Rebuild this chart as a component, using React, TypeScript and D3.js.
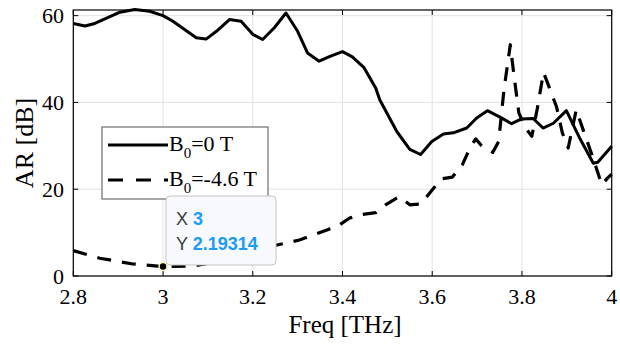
import * as d3 from 'd3'

// B0 = 0 T (solid)
const freqSolid = [
  2.8, 2.826, 2.848, 2.904, 2.937, 2.97, 3.0, 3.022, 3.074, 3.096, 3.119, 3.148, 3.174, 3.2, 3.222,
  3.248, 3.274, 3.3, 3.322, 3.348, 3.372, 3.4, 3.422, 3.448, 3.474, 3.483, 3.521, 3.55, 3.574, 3.599,
  3.625, 3.647, 3.677, 3.699, 3.723, 3.751, 3.777, 3.799, 3.825, 3.847, 3.87, 3.899, 3.93, 3.959,
  3.969, 4.0,
]
const arSolid = [
  58.2, 57.6, 58.2, 60.8, 61.4, 61.0, 60.0, 58.7, 54.9, 54.6, 56.4, 59.1, 58.7, 55.7, 54.5,
  57.2, 60.6, 56.4, 51.4, 49.5, 50.6, 51.7, 50.5, 48.0, 43.3, 40.6, 33.3, 29.2, 28.0, 31.0,
  32.7, 33.0, 34.1, 36.4, 38.1, 36.6, 35.1, 36.2, 36.3, 34.1, 35.2, 38.1, 31.5, 26.0,
  26.2, 29.9,
]

// B0 = -4.6 T (dashed)
const freqDashed = [
  2.8, 2.859, 2.933, 3.0, 3.067, 3.141, 3.244, 3.304, 3.37, 3.385, 3.415, 3.437, 3.474, 3.496, 3.526,
  3.55, 3.575, 3.598, 3.62, 3.645, 3.667, 3.684, 3.697, 3.71, 3.735, 3.748, 3.76, 3.774, 3.781,
  3.793, 3.808, 3.822, 3.834, 3.848, 3.857, 3.877, 3.89, 3.903, 3.921, 3.937, 3.959, 3.978, 3.99, 4.0,
]
const arDashed = [
  5.85, 4.1, 2.77, 2.19314, 2.3, 3.7, 6.9, 8.3, 10.8, 11.2, 13.3, 14.1, 14.6, 16.4, 18.3,
  16.4, 16.6, 19.6, 22.4, 22.8, 25.6, 29.5, 31.6, 30.0, 28.5, 31.0, 43.0, 53.3, 47.2,
  37.6, 34.1, 32.2, 38.5, 46.9, 44.5, 39.0, 33.0, 29.5, 38.3, 33.5, 27.0, 21.0, 22.5, 23.5,
]

const xTicks = [2.8, 3, 3.2, 3.4, 3.6, 3.8, 4]
const yTicks = [0, 20, 40, 60]
const legendLabels = ['0 T', '-4.6 T']
const tipX = 3
const tipY = 2.19314

const W = 620
const H = 345
const serif = '"Liberation Serif", "Times New Roman", serif'
const sans = '"Liberation Sans", Arial, sans-serif'

export default function App() {
  const x = d3.scaleLinear().domain([2.8, 4]).range([73.3, 611.7])
  const y = d3.scaleLinear().domain([0, 61.3]).range([276, 10])
  const [x0, x1] = x.range()
  const [y0, y1] = y.range()

  const line = d3
    .line<[number, number]>()
    .x((d) => x(d[0]))
    .y((d) => y(d[1]))

  const solid = freqSolid.map((f, i) => [f, arSolid[i]] as [number, number])
  const dashed = freqDashed.map((f, i) => [f, arDashed[i]] as [number, number])

  const tick = 5

  // legend / datatip placement
  const lg = { x: 102, y: 127, w: 166, h: 72 }
  const tip = { x: 166, y: 196, w: 110, h: 69 }

  return (
    <svg
      width={W}
      height={H}
      style={{ position: 'absolute', left: 0, top: 0, background: '#fff' }}
    >
      {/* grid */}
      {xTicks.map((t) => (
        <line key={'gx' + t} x1={x(t)} x2={x(t)} y1={y0} y2={y1} stroke="#e3e3e3" strokeWidth={1} />
      ))}
      {yTicks.map((t) => (
        <line key={'gy' + t} x1={x0} x2={x1} y1={y(t)} y2={y(t)} stroke="#e3e3e3" strokeWidth={1} />
      ))}

      {/* data */}
      <path d={line(solid) ?? ''} fill="none" stroke="#000" strokeWidth={3} strokeLinejoin="round" />
      <path
        d={line(dashed) ?? ''}
        fill="none"
        stroke="#000"
        strokeWidth={3.2}
        strokeDasharray="14,11"
        strokeLinejoin="round"
      />

      {/* axes box + ticks */}
      <rect x={x0} y={y1} width={x1 - x0} height={y0 - y1} fill="none" stroke="#000" strokeWidth={1.2} />
      {xTicks.map((t) => (
        <g key={'tx' + t}>
          <line x1={x(t)} x2={x(t)} y1={y0} y2={y0 - tick} stroke="#000" />
          <line x1={x(t)} x2={x(t)} y1={y1} y2={y1 + tick} stroke="#000" />
          <text x={x(t)} y={304} textAnchor="middle" fontFamily={serif} fontSize={22} fill="#000">
            {t}
          </text>
        </g>
      ))}
      {yTicks.map((t) => (
        <g key={'ty' + t}>
          <line x1={x0} x2={x0 + tick} y1={y(t)} y2={y(t)} stroke="#000" />
          <line x1={x1} x2={x1 - tick} y1={y(t)} y2={y(t)} stroke="#000" />
          <text x={64} y={y(t) + 7.5} textAnchor="end" fontFamily={serif} fontSize={22} fill="#000">
            {t}
          </text>
        </g>
      ))}

      <text x={345} y={333} textAnchor="middle" fontFamily={serif} fontSize={25} fill="#000">
        Freq [THz]
      </text>
      <text
        transform={`translate(33,${(y0 + y1) / 2}) rotate(-90)`}
        textAnchor="middle"
        fontFamily={serif}
        fontSize={26}
        fill="#000"
      >
        AR [dB]
      </text>

      {/* legend */}
      <rect x={lg.x} y={lg.y} width={lg.w} height={lg.h} fill="#fff" stroke="#6e6e6e" strokeWidth={1.2} />
      {legendLabels.map((lab, i) => {
        const ly = lg.y + 18 + i * 35
        return (
          <g key={lab}>
            <line
              x1={lg.x + 6}
              x2={lg.x + 66}
              y1={ly}
              y2={ly}
              stroke="#000"
              strokeWidth={3.2}
              strokeDasharray={i === 1 ? '15,13' : undefined}
            />
            <text x={lg.x + 67} y={ly + 6} fontFamily={serif} fontSize={22} fill="#000">
              B
              <tspan fontSize={15} dy={7}>
                0
              </tspan>
              <tspan dy={-7}>={lab}</tspan>
            </text>
          </g>
        )
      })}

      {/* datatip */}
      <circle cx={x(tipX)} cy={y(tipY)} r={4} fill="#000" stroke="#fdf6c0" strokeWidth={1.5} />
      <rect
        x={tip.x}
        y={tip.y}
        width={tip.w}
        height={tip.h}
        rx={4}
        fill="#f8f9fd"
        stroke="#c4c4c4"
        strokeWidth={1}
      />
      <text x={tip.x + 10} y={tip.y + 29} fontFamily={sans} fontSize={18} fill="#3c3c3c">
        X{' '}
        <tspan fontWeight="bold" fill="#1a9bf5">
          {tipX}
        </tspan>
      </text>
      <text x={tip.x + 10} y={tip.y + 54} fontFamily={sans} fontSize={18} fill="#3c3c3c">
        Y{' '}
        <tspan fontWeight="bold" fill="#1a9bf5">
          {tipY}
        </tspan>
      </text>
    </svg>
  )
}
